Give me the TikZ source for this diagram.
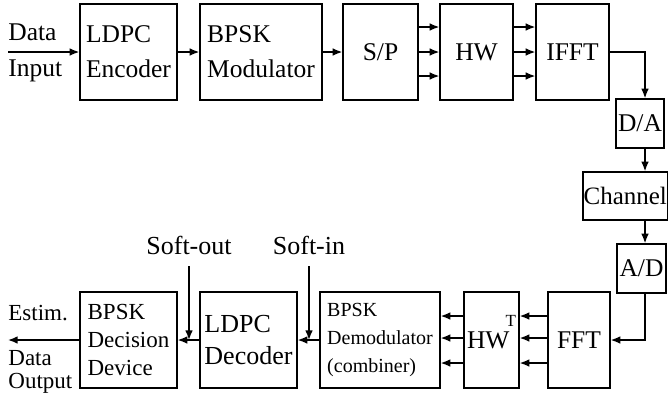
\documentclass[tikz,border=0pt]{standalone}
\usepackage{fontspec}
\setmainfont{Liberation Serif}
\usetikzlibrary{arrows.meta}

\begin{document}
\begin{tikzpicture}[
    x=0.5pt,y=-0.5pt,
    blk/.style={draw,line width=0.7pt,inner sep=1pt,align=left,
      font=\fontsize{12.75}{17.5}\selectfont},
    tall/.style={blk,minimum height=48pt},
    small/.style={blk,minimum size=24.5pt},
    arrow/.style={-{Latex[length=4.8pt,width=3.8pt]},line width=0.7pt},
    lbl/.style={inner sep=0pt,anchor=base west,font=\fontsize{12.75}{15}\selectfont},
    softlbl/.style={font=\fontsize{13}{15}\selectfont}
]
\useasboundingbox (0,0) rectangle (669,397);

% transmitter
\node[tall,minimum width=48.5pt] (enc) at (128.5,52) {LDPC\\Encoder};
\node[tall,minimum width=61pt] (mod) at (261,52) {BPSK\\Modulator};
\node[tall,minimum width=37.5pt] (sp) at (380.5,52) {S/P};
\node[tall,minimum width=36.5pt] (hw) at (476.5,52) {HW};
\node[tall,minimum width=36.5pt] (ifft) at (572.5,52) {IFFT};

% channel column
\node[small,minimum width=23pt] (da) at (640,123.5) {D/A};
\node[small,inner sep=0pt,minimum width=42.25pt,minimum height=24pt,
  font=\fontsize{12.5}{15}\selectfont] (chan) at (625.25,196) {Channel};
\node[small] (ad) at (641.5,268.5) {A/D};
\coordinate (col) at (645,0);

% receiver
\node[tall,minimum width=31pt] (fft) at (579,340) {FFT};
\node[tall,minimum width=27.5pt] (hwt) at (491.5,340)
  {HW\kern-2pt\raisebox{11pt}[0pt][0pt]{\fontsize{8.5}{10}\selectfont T}};
\node[tall,minimum width=60pt,font=\fontsize{10}{14}\selectfont] (demod) at (380,340)
  {BPSK\\Demodulator\\(combiner)};
\node[tall,minimum width=48.5pt,font=\fontsize{13}{16}\selectfont] (dec) at (248.5,340)
  {LDPC\\Decoder};
\node[tall,minimum width=48.5pt,font=\fontsize{11.5}{14}\selectfont] (dev) at (128.5,340)
  {BPSK\\Decision\\Device};

% labels
\node[lbl] (datain) at (8,40) {Data};
\node[lbl] (input) at (8,76) {Input};
\coordinate (in) at (8,52);
\node[lbl,font=\fontsize{11.5}{14}\selectfont] (estim) at (8,320) {Estim.};
\node[lbl,font=\fontsize{11.5}{14}\selectfont] (dataout) at (8,365) {Data};
\node[lbl,font=\fontsize{11.5}{14}\selectfont] (output) at (8,388) {Output};
\coordinate (out) at (8,340);
\node[softlbl] (softout) at (189,245) {Soft-out};
\node[softlbl] (softin) at (309,245) {Soft-in};

% connections
\draw[arrow] (in) -- (enc);
\draw[arrow] (enc) -- (mod);
\draw[arrow] (mod) -- (sp);
\foreach \dy in {12.5pt,0pt,-12pt}{
  \draw[arrow] ([yshift=\dy]sp.east) -- ([yshift=\dy]hw.west);
  \draw[arrow] ([yshift=\dy]hw.east) -- ([yshift=\dy]ifft.west);
}
\draw[arrow] (ifft) -| (da.north -| col);
\draw[arrow] (da.south -| col) -- (chan.north -| col);
\draw[arrow] (chan.south -| col) -- (ad.north -| col);
\draw[arrow] (ad.south -| col) |- (fft);
\foreach \dy in {12pt,1pt,-11.5pt}{
  \draw[arrow] ([yshift=\dy]fft.west) -- ([yshift=\dy]hwt.east);
  \draw[arrow] ([yshift=\dy]hwt.west) -- ([yshift=\dy]demod.east);
}
\draw[arrow] (demod) -- (dec);
\draw[arrow] (dec) -- (dev);
\draw[arrow] (dev) -- (out);
\draw[arrow] ([yshift=-2.5pt]softout.south) -- (softout.south |- dec.west);
\draw[arrow] ([yshift=-2.5pt]softin.south) -- (softin.south |- demod.west);
\end{tikzpicture}
\end{document}
